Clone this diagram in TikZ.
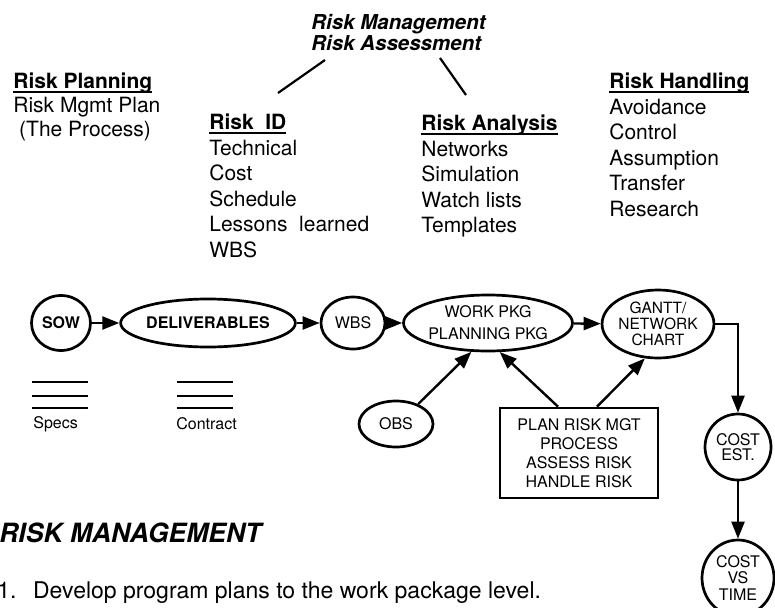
\documentclass[tikz,border=0pt]{standalone}
\usepackage{fontspec}
\setmainfont{TeX Gyre Heros}
\usetikzlibrary{shapes.geometric, arrows.meta}

\newcommand{\riskhead}[1]{\setbox0\hbox{\bfseries #1}\rlap{\rule[-3.6pt]{\wd0}{1.6pt}}\box0}

\begin{document}
\begin{tikzpicture}[x=1pt, y=-1pt, line width=2.7pt,
    bubble/.style={draw, ellipse, inner sep=0pt, align=center,
      font=\fontsize{16}{17}\selectfont},
    flow/.style={line width=2.4pt, -{Triangle[length=17pt, width=13pt]}},
    listtext/.style={anchor=north west, inner sep=0pt, align=left,
      font=\fontsize{21}{25.5}\selectfont},
  ]
  \useasboundingbox (0,0) rectangle (775,607);

  % top: process headings
  \node[anchor=north west, inner sep=0pt, align=left,
    font=\bfseries\itshape\fontsize{20.5}{20.5}\selectfont] (header) at (310,13)
    {Risk Management\\Risk Assessment};
  \coordinate (hl1) at (325,60);
  \coordinate (hl2) at (278,93);
  \coordinate (hr1) at (440,58);
  \coordinate (hr2) at (466,95);
  \draw[line width=2.2pt] (hl1) -- (hl2);
  \draw[line width=2.2pt] (hr1) -- (hr2);

  \node[listtext, font=\fontsize{21}{24}\selectfont] (riskplan) at (12,72)
    {\riskhead{Risk Planning}\\Risk Mgmt Plan\\\ (The Process)};
  \node[listtext] (riskid) at (208,113)
    {\riskhead{Risk\ \ ID}\\Technical\\Cost\\Schedule\\Lessons\ \ learned\\WBS};
  \node[listtext] (riskanalysis) at (420,114)
    {\riskhead{Risk Analysis}\\Networks\\Simulation\\Watch lists\\Templates};
  \node[listtext] (riskhandling) at (608,72)
    {\riskhead{Risk Handling}\\Avoidance\\Control\\Assumption\\Transfer\\Research};

  % planning chain
  \node[bubble, minimum width=59pt, minimum height=55pt,
    font=\bfseries\fontsize{16}{17}\selectfont] (sow) at (61,323) {SOW};
  \node[bubble, minimum width=142pt, minimum height=48pt,
    font=\bfseries\fontsize{16}{17}\selectfont] (deliv) at (208,323) {DELIVERABLES};
  \node[bubble, minimum width=64pt, minimum height=52pt] (wbs) at (353,323) {WBS};
  \node[bubble, minimum width=150pt, minimum height=56pt,
    font=\fontsize{16}{22}\selectfont] (work) at (488,323) {WORK PKG\\PLANNING PKG};
  \node[bubble, minimum width=110pt, minimum height=68pt,
    font=\fontsize{15.5}{16}\selectfont] (gantt) at (658,324) {GANTT/\\NETWORK\\CHART};
  \node[bubble, minimum width=66pt, minimum height=66pt,
    font=\fontsize{16}{15}\selectfont] (costest) at (738,447) {COST\\EST.};
  \node[bubble, minimum width=72pt, minimum height=76pt,
    font=\fontsize{16}{16.5}\selectfont] (costvs) at (738,578) {COST\\VS\\TIME};
  \node[bubble, minimum width=74pt, minimum height=46pt] (obs) at (396,424) {OBS};
  \node[draw, inner sep=0pt, minimum width=158pt, minimum height=90pt, align=center,
    font=\fontsize{16}{19}\selectfont] (plan) at (579,453)
    {PLAN RISK MGT\\PROCESS\\ASSESS RISK\\HANDLE RISK};

  \draw[flow] (sow) -- (deliv);
  \draw[flow] (deliv) -- (wbs);
  \draw[flow] (wbs) -- (work);
  \draw[flow] (work) -- (gantt);
  \draw[flow] (gantt.east) -| (costest.north);
  \draw[flow] (costest) -- (costvs);
  \draw[flow] (obs.42) -- (work.-120);
  \draw[flow] ([xshift=-21pt]plan.north) -- (work.-68);
  \draw[flow] ([xshift=18pt]plan.north) -- (gantt.-111);

  % documents
  \foreach \ly in {382,396,408} {
    \draw[line width=2.4pt] (32,\ly) -- (88,\ly);
    \draw[line width=2.4pt] (177,\ly) -- (233,\ly);
  }
  \node[anchor=west, inner sep=0pt, font=\fontsize{16}{17}\selectfont] (specs) at (32,424) {Specs};
  \node[anchor=west, inner sep=0pt, font=\fontsize{16}{17}\selectfont] (contract) at (175,424) {Contract};

  % bottom text
  \node[anchor=base west, inner sep=0pt,
    font=\bfseries\itshape\fontsize{26.5}{30}\selectfont] (rmtitle) at (-2,542) {RISK MANAGEMENT};
  \node[anchor=base west, inner sep=0pt, font=\fontsize{23}{25}\selectfont] (stepone) at (-4,598)
    {1.\ \ \,Develop program plans to the work package level.};
\end{tikzpicture}
\end{document}
